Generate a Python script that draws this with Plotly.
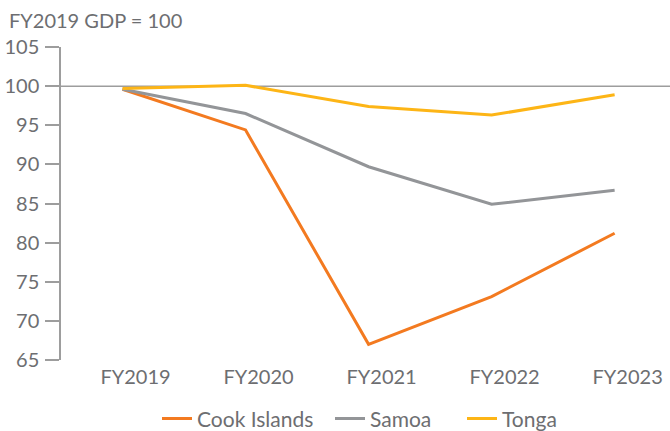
import plotly.graph_objects as go

years = ["FY2019", "FY2020", "FY2021", "FY2022", "FY2023"]
cook_islands = [99.6, 94.4, 67.0, 73.1, 81.2]
samoa = [99.6, 96.5, 89.7, 84.9, 86.7]
tonga = [99.7, 100.1, 97.4, 96.3, 98.9]
y_ticks = [65, 70, 75, 80, 85, 90, 95, 100, 105]

series = [
    ("Cook Islands", cook_islands, "#F37A20"),
    ("Samoa", samoa, "#939598"),
    ("Tonga", tonga, "#FDB516"),
]
legend_ids = ["legend", "legend2", "legend3"]
legend_left_px = [157, 330, 462]

FONT = "Lato"
GRAY = "#6d6e71"
FS = 20
W, H = 670, 431

fig = go.Figure()
for (name, vals, col), lid in zip(series, legend_ids):
    fig.add_trace(go.Scatter(x=years, y=vals, name=name, mode="lines",
                             line=dict(color=col, width=3), legend=lid))

fig.add_shape(type="line", xref="paper", yref="y", x0=0, x1=1, y0=100, y1=100,
              line=dict(color="#9d9d9d", width=1.5), layer="below")

fig.add_annotation(text="FY2019 GDP = 100", xref="paper", yref="paper",
                   x=-0.089, y=1.086, xanchor="left", yanchor="middle",
                   showarrow=False, font=dict(family=FONT, size=FS, color=GRAY))

legend_common = dict(orientation="h", xref="container", yref="container",
                     xanchor="left", y=0.028, yanchor="middle",
                     font=dict(family=FONT, size=21, color=GRAY),
                     bgcolor="rgba(0,0,0,0)")
legends = {lid: dict(legend_common, x=px / W) for lid, px in zip(legend_ids, legend_left_px)}

fig.update_layout(
    width=W, height=H,
    margin=dict(l=61, r=0, t=47, b=71),
    paper_bgcolor="white", plot_bgcolor="white",
    font=dict(family=FONT, size=FS, color=GRAY),
    showlegend=True,
    **legends,
)
fig.update_xaxes(type="category", range=[-0.5, 4.45], showgrid=False, showline=False,
                 zeroline=False, ticks="", ticklabelshift=13, ticklabelstandoff=3,
                 automargin=False,
                 tickfont=dict(family=FONT, size=FS, color=GRAY))
fig.update_yaxes(range=[65, 105], tickvals=y_ticks, showgrid=False, zeroline=False,
                 showline=True, linecolor="#9d9d9d", linewidth=1.5, automargin=False,
                 ticks="outside", ticklen=14, tickcolor="#9d9d9d", tickwidth=1.5,
                 ticklabelstandoff=2,
                 tickfont=dict(family=FONT, size=FS, color=GRAY))

fig.write_html("out.html", config={"displayModeBar": False},
               post_script="document.body.style.margin='0';document.body.style.overflow='hidden';")
